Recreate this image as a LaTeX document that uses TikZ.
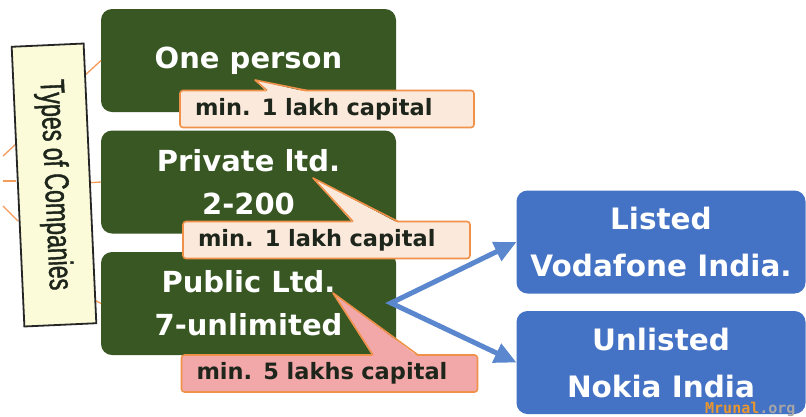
\documentclass[tikz,border=0pt]{standalone}
\usepackage{fontspec}
\setmainfont{DejaVu Sans}
\newfontfamily\narrowfont[FakeStretch=0.68,FakeBold=1.2]{Liberation Sans}
\newfontfamily\markfont{DejaVu Sans Mono}
\usetikzlibrary{arrows.meta}
\definecolor{boxgreen}{HTML}{385723}
\definecolor{boxblue}{HTML}{4472C4}
\definecolor{arrowblue}{HTML}{5B87CF}
\definecolor{notefill}{HTML}{FBE9DB}
\definecolor{notepink}{HTML}{F2A7A8}
\definecolor{noteline}{HTML}{F0914A}
\definecolor{twigcol}{HTML}{F39B5B}
\definecolor{tagfill}{HTML}{FBFBDA}
\definecolor{inkdark}{HTML}{1E261C}
\definecolor{markorange}{HTML}{E8962F}

\tikzset{
  kind/.style={fill=boxgreen, rounded corners=11pt, inner sep=0pt, outer sep=0pt,
    minimum width=295pt, minimum height=103pt, text=white, align=center,
    font=\fontsize{29}{43}\selectfont\bfseries},
  listing/.style={kind, fill=boxblue, minimum width=289pt,
    font=\fontsize{29.5}{47}\selectfont\bfseries},
  note/.style={draw=noteline, line width=1.6pt, rounded corners=3pt, fill=notefill,
    text=inkdark, inner xsep=15pt, inner ysep=0pt, outer sep=0pt, minimum height=37pt,
    align=left, font=\fontsize{22.5}{26}\selectfont\bfseries},
  tag/.style={draw=black!85, line width=1.8pt, fill=tagfill, inner sep=0pt,
    minimum width=280pt, minimum height=72pt, text=inkdark,
    font=\narrowfont\fontsize{34}{34}\selectfont},
  twig/.style={twigcol, line width=1.3pt},
  flow/.style={arrowblue, line width=5pt, line join=miter,
    {Triangle[length=22pt,width=20pt]}-{Triangle[length=22pt,width=20pt]}}
}

\begin{document}
\begin{tikzpicture}[x=1pt,y=-1pt]
  % canvas in px, y running down
  \fill[white] (0,0) rectangle (806,416);
  \useasboundingbox (0,0) rectangle (806,416);

  % company kinds
  \foreach \nm/\yy/\txt in {onep/60.5/{One person}, priv/182/{Private ltd.\\2-200},
                            pub/303.5/{Public Ltd.\\7-unlimited}}
    \node[kind] (\nm) at (248.5,\yy) {\txt};

  % listed / unlisted
  \node[listing] (listed) at (661,242) {Listed\\Vodafone India.};
  \node[listing] (unlisted) at (661,362.5) {Unlisted\\Nokia India};

  % stray map links round the tag
  \foreach \a/\b in {{3,156}/{16,144}, {3,181}/{16,181}, {3,206}/{18,221}}
    \draw[twig] (\a) -- (\b);
  \coordinate (k1) at (82,78);
  \coordinate (k3) at (80,292);
  \draw[twig] (k1) -- (onep.west);
  \draw[twig] (54,185) -- (priv.west);
  \draw[twig] (k3) -- (pub.west);

  % tilted tag
  \node[tag, rotate=-87.4] (types) at (54,185) {Types of Companies};

  % capital notes
  \node[note, text width=264pt] (cap1) at (327,109) {min. 1 lakh capital};
  \node[note, text width=257pt] (cap2) at (326.5,240) {min. 1 lakh capital};
  \node[note, fill=notepink, text width=266pt] (cap3) at (329.5,373.5) {min. 5 lakhs capital};
  % pointers: tip, then base offsets from the north west corner
  \foreach \nm/\tx/\ty/\a/\b/\fc in {cap1/255/80/87/127/notefill,
                                     cap2/313/178/170/215/notefill,
                                     cap3/333/293/191.5/236.5/notepink}{
    \fill[\fc] ([xshift=\a pt,yshift=-1.5pt]\nm.north west) -- (\tx,\ty)
       -- ([xshift=\b pt,yshift=-1.5pt]\nm.north west) -- cycle;
    \draw[noteline, line width=1.6pt, line join=round] ([xshift=\a pt]\nm.north west)
       -- (\tx,\ty) -- ([xshift=\b pt]\nm.north west);
  }

  % public split
  \coordinate (fork) at (391,303);
  \draw[flow] (listed.west) -- (fork) -- (unlisted.west);

  \node[anchor=base east, font=\markfont\bfseries\fontsize{15}{15}\selectfont] (mark)
    at (799,413) {\textcolor{markorange}{Mrunal}\textcolor{gray!70}{.org}};
\end{tikzpicture}
\end{document}
